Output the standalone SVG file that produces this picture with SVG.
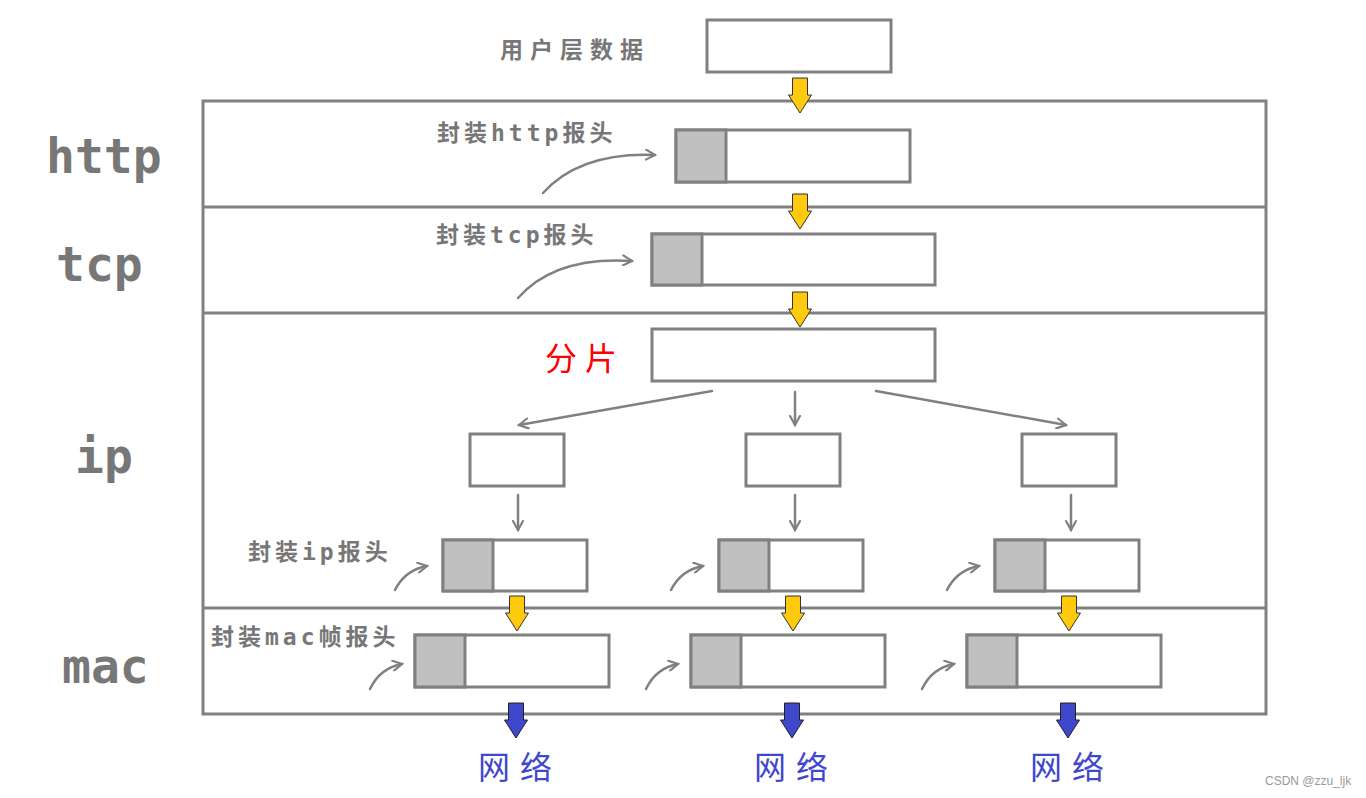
<svg xmlns="http://www.w3.org/2000/svg" xmlns:xlink="http://www.w3.org/1999/xlink" width="1366" height="798" viewBox="0 0 1366 798">
<style>
.box{fill:#fff;stroke:#808080;stroke-width:3}
.hdr{fill:#c0c0c0;stroke:#808080;stroke-width:3}
.frame{fill:none;stroke:#808080;stroke-width:3}
.layer{font-family:"DejaVu Sans Mono","Liberation Mono",monospace;font-weight:bold;font-size:48px;fill:#777}
.lbl{font-family:"DejaVu Sans Mono","Noto Sans CJK SC",monospace;font-weight:bold;font-size:23px;fill:#777;letter-spacing:4px}
.net{font-family:"Noto Sans CJK SC",sans-serif;font-size:32px;fill:#3f48cc;letter-spacing:10px}
.red{font-family:"Noto Sans CJK SC",sans-serif;font-size:32px;fill:#ff0000;letter-spacing:8px}
.conn{fill:none;stroke:#808080;stroke-width:2.5;stroke-linecap:round}
.wm{font-family:"Liberation Sans",sans-serif;font-size:12px;fill:#999}
</style>
<defs>
<marker id="v" viewBox="0 0 12 12" refX="10" refY="6" markerWidth="12" markerHeight="12" markerUnits="userSpaceOnUse" orient="auto">
<path d="M1,1 L10,6 L1,11" fill="none" stroke="#808080" stroke-width="2.2" stroke-linecap="round"/>
</marker>
<path id="ya" d="M-7.5,0 H7.5 V17 H11.5 L0,35 L-11.5,17 H-7.5 Z" fill="#ffc90e" stroke="#333" stroke-width="1"/>
<path id="ba" d="M-7.5,0 H7.5 V17 H11.5 L0,35 L-11.5,17 H-7.5 Z" fill="#3f48cc" stroke="#222" stroke-width="1"/>
</defs>
<rect width="1366" height="798" fill="#fff"/>
<g id="frame">
<rect class="frame" x="203" y="101" width="1063" height="613"/>
<line class="frame" x1="203" y1="207" x2="1266" y2="207"/>
<line class="frame" x1="203" y1="313" x2="1266" y2="313"/>
<line class="frame" x1="203" y1="608" x2="1266" y2="608"/>
</g>
<g id="layer-labels">
<text class="layer" x="46" y="173">http</text>
<text class="layer" x="56" y="281">tcp</text>
<text class="layer" x="75" y="473">ip</text>
<text class="layer" x="62" y="683">mac</text>
</g>
<g id="user-data">
<text class="lbl" x="500" y="58" style="letter-spacing:7px">用户层数据</text>
<rect class="box" x="707" y="20" width="184" height="52"/>
</g>
<g id="http-node">
<text class="lbl" x="437" y="141">封装http报头</text>
<rect class="box" x="676" y="130" width="234" height="52"/>
<rect class="hdr" x="676" y="130" width="50" height="52"/>
</g>
<g id="tcp-node">
<text class="lbl" x="436" y="243">封装tcp报头</text>
<rect class="box" x="652" y="234" width="283" height="51"/>
<rect class="hdr" x="652" y="234" width="50" height="51"/>
</g>
<g id="frag-node">
<text class="red" x="545" y="370">分片</text>
<rect class="box" x="652" y="329" width="283" height="52"/>
</g>
<g id="frag-1"><rect class="box" x="470" y="434" width="94" height="52"/></g>
<g id="frag-2"><rect class="box" x="746" y="434" width="94" height="52"/></g>
<g id="frag-3"><rect class="box" x="1022" y="434" width="94" height="52"/></g>
<g id="ip-label"><text class="lbl" x="248" y="560">封装ip报头</text></g>
<g id="ip-1"><rect class="box" x="443" y="540" width="144" height="51"/><rect class="hdr" x="443" y="540" width="50" height="51"/></g>
<g id="ip-2"><rect class="box" x="719" y="540" width="144" height="51"/><rect class="hdr" x="719" y="540" width="50" height="51"/></g>
<g id="ip-3"><rect class="box" x="995" y="540" width="144" height="51"/><rect class="hdr" x="995" y="540" width="50" height="51"/></g>
<g id="mac-label"><text class="lbl" x="211" y="645">封装mac帧报头</text></g>
<g id="mac-1"><rect class="box" x="415" y="635" width="194" height="52"/><rect class="hdr" x="415" y="635" width="50" height="52"/></g>
<g id="mac-2"><rect class="box" x="691" y="635" width="194" height="52"/><rect class="hdr" x="691" y="635" width="50" height="52"/></g>
<g id="mac-3"><rect class="box" x="967" y="635" width="194" height="52"/><rect class="hdr" x="967" y="635" width="50" height="52"/></g>
<g id="net-labels">
<text class="net" x="478" y="779">网络</text>
<text class="net" x="754" y="779">网络</text>
<text class="net" x="1030" y="779">网络</text>
</g>
<g id="connectors">
<use xlink:href="#ya" x="800" y="78"/>
<use xlink:href="#ya" x="800" y="194"/>
<use xlink:href="#ya" x="800" y="292"/>
<use xlink:href="#ya" x="517" y="596"/>
<use xlink:href="#ya" x="793" y="596"/>
<use xlink:href="#ya" x="1069" y="596"/>
<use xlink:href="#ba" x="516" y="703"/>
<use xlink:href="#ba" x="792" y="703"/>
<use xlink:href="#ba" x="1068" y="703"/>
<path class="conn" marker-end="url(#v)" d="M712,391 L519,425"/>
<path class="conn" marker-end="url(#v)" d="M795,392 L795,425"/>
<path class="conn" marker-end="url(#v)" d="M876,391 L1066,425"/>
<path class="conn" marker-end="url(#v)" d="M518,495 L518,530"/>
<path class="conn" marker-end="url(#v)" d="M795,495 L795,530"/>
<path class="conn" marker-end="url(#v)" d="M1071,495 L1071,530"/>
<path class="conn" marker-end="url(#v)" d="M543,193 Q580,152 655,155"/>
<path class="conn" marker-end="url(#v)" d="M518,298 Q555,256 632,261"/>
<path class="conn" marker-end="url(#v)" d="M395,590 Q405,570 427,566"/>
<path class="conn" marker-end="url(#v)" d="M671,590 Q681,570 703,566"/>
<path class="conn" marker-end="url(#v)" d="M947,590 Q957,570 979,566"/>
<path class="conn" marker-end="url(#v)" d="M370,689 Q380,668 402,664"/>
<path class="conn" marker-end="url(#v)" d="M646,689 Q656,668 678,664"/>
<path class="conn" marker-end="url(#v)" d="M922,689 Q932,668 954,664"/>
</g>
<text class="wm" x="1265" y="785">CSDN @zzu_ljk</text>
</svg>
